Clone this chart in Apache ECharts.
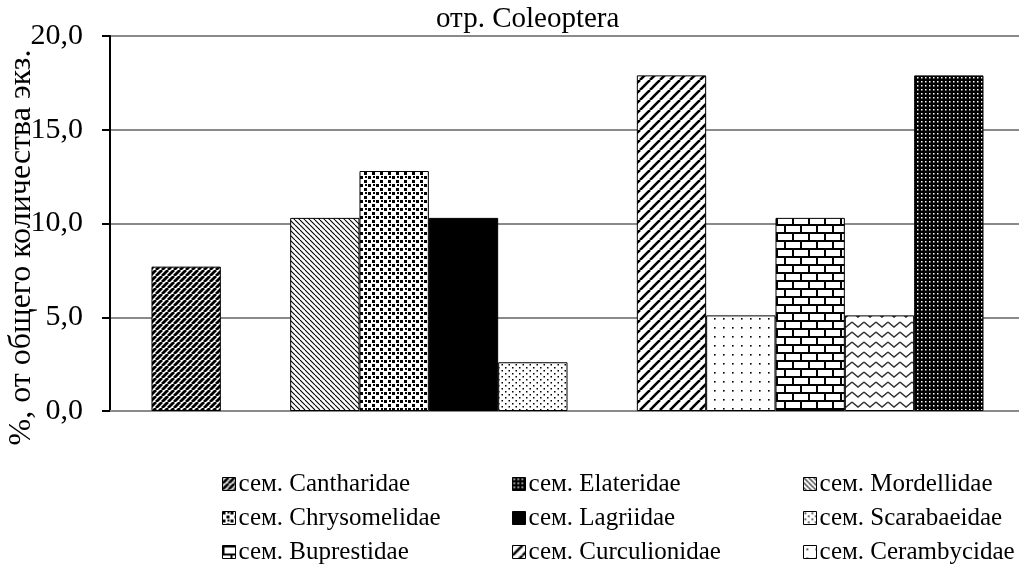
<!DOCTYPE html>
<html>
<head>
<meta charset="utf-8">
<script src="https://cdn.jsdelivr.net/npm/echarts@6/dist/echarts.min.js"></script>
<style>
  html, body { margin: 0; background: #fff; }
  #chart { width: 1019px; height: 571px; }
</style>
</head>
<body>
<div id="chart"></div>
<script>
const chartTitle = 'отр. Coleoptera';
const yAxisName = '%, от общего количества экз.';
const categories = [''];
// one bar per slot, left to right; null slots are the empty gaps between groups
const seriesNames = [
  'сем. Cantharidae', 'gap 1',
  'сем. Mordellidae', 'сем. Chrysomelidae', 'сем. Lagriidae', 'сем. Scarabaeidae', 'gap 2',
  'сем. Curculionidae', 'сем. Cerambycidae', 'сем. Buprestidae', 'Ряд 11', 'сем. Elateridae'
];
const seriesValues = [7.7, null, 10.3, 12.8, 10.3, 2.6, null, 17.9, 5.1, 10.3, 5.1, 17.9];
const yMin = 0, yMax = 20, yStep = 5;
const legendCol1 = ['сем. Cantharidae', 'сем. Chrysomelidae', 'сем. Buprestidae'];
const legendCol2 = ['сем. Elateridae', 'сем. Lagriidae', 'сем. Curculionidae'];
const legendCol3 = ['сем. Mordellidae', 'сем. Scarabaeidae', 'сем. Cerambycidae'];

const FONT = '"Liberation Serif", "Times New Roman", serif';

function tile(w, h, draw, bg) {
  const c = document.createElement('canvas');
  c.width = w; c.height = h;
  const g = c.getContext('2d');
  g.fillStyle = bg || '#fff';
  g.fillRect(0, 0, w, h);
  g.fillStyle = '#000';
  g.strokeStyle = '#000';
  draw(g, w, h);
  return { image: c, repeat: 'repeat' };
}

function slash(s, lw) {
  return tile(s, s, g => {
    g.lineWidth = lw;
    for (let k = -1; k <= 1; k++) {
      g.beginPath(); g.moveTo(k * s, s); g.lineTo(k * s + s, 0); g.stroke();
    }
  });
}

function backslash(s, lw) {
  return tile(s, s, g => {
    g.lineWidth = lw;
    for (let k = -1; k <= 1; k++) {
      g.beginPath(); g.moveTo(k * s, 0); g.lineTo(k * s + s, s); g.stroke();
    }
  });
}

const patterns = {
  'сем. Cantharidae': slash(6, 2.8),
  'сем. Mordellidae': backslash(5, 1.1),
  'сем. Chrysomelidae': tile(8, 8, g => {
    g.fillRect(0, 0, 3, 3); g.fillRect(4, 4, 3, 3); g.fillRect(5, 0, 2, 2);
  }),
  'сем. Lagriidae': '#000',
  'сем. Scarabaeidae': tile(7, 6, g => {
    g.fillRect(1, 1, 1.5, 1.5); g.fillRect(4.5, 4, 1.5, 1.5);
  }),
  'сем. Curculionidae': slash(10, 2.6),
  'сем. Cerambycidae': tile(9, 9, g => { g.fillRect(3, 3, 1.6, 1.6); }),
  'сем. Buprestidae': tile(16, 16, g => {
    g.fillRect(0, 0, 16, 2); g.fillRect(0, 8, 16, 2);
    g.fillRect(0, 0, 2, 8); g.fillRect(8, 8, 2, 8);
  }),
  'Ряд 11': tile(12, 10, g => {
    g.lineWidth = 1.4; g.strokeStyle = '#333';
    g.beginPath(); g.moveTo(0, 2); g.lineTo(6, 7); g.lineTo(12, 2); g.stroke();
  }),
  'сем. Elateridae': tile(4, 4, g => {
    g.fillStyle = '#fff'; g.fillRect(1, 1, 1.5, 1.5);
  }, '#000')
};

const series = seriesNames.map((name, i) => ({
  name: name,
  type: 'bar',
  barGap: '0%',
  barCategoryGap: '9.07%',
  data: [seriesValues[i]],
  itemStyle: {
    color: patterns[name] || '#fff',
    borderColor: '#000',
    borderWidth: 1
  }
}));

function legendColumn(names, left) {
  return {
    data: names,
    orient: 'vertical',
    left: left,
    top: 466,
    height: 120,
    icon: 'rect',
    itemWidth: 13,
    itemHeight: 13,
    itemGap: 8,
    selectedMode: false,
    itemStyle: { borderColor: '#000', borderWidth: 1 },
    textStyle: { fontFamily: FONT, fontSize: 25, color: '#000', lineHeight: 26, padding: [0, 0, 0, -2] }
  };
}

const chart = echarts.init(document.getElementById('chart'));
chart.setOption({
  animation: false,
  backgroundColor: '#fff',
  title: {
    text: chartTitle,
    left: 431,
    top: 0,
    textStyle: { fontFamily: FONT, fontSize: 29, fontWeight: 'normal', color: '#000' }
  },
  legend: [
    legendColumn(legendCol1, 217),
    legendColumn(legendCol2, 507),
    legendColumn(legendCol3, 798)
  ],
  grid: { left: 110, right: -6, top: 36, bottom: 160, containLabel: false, outerBoundsMode: 'none' },
  xAxis: {
    type: 'category',
    data: categories,
    axisLine: { lineStyle: { color: '#8a8a8a', width: 2 } },
    axisTick: { show: false },
    axisLabel: { show: false }
  },
  yAxis: {
    type: 'value',
    min: yMin,
    max: yMax,
    interval: yStep,
    name: yAxisName,
    nameLocation: 'middle',
    nameGap: 72,
    nameMoveOverlap: false,
    nameTextStyle: { fontFamily: FONT, fontSize: 32, color: '#000', padding: [0, 48, 0, 0] },
    axisLine: { show: true, lineStyle: { color: '#000', width: 2 } },
    axisTick: { show: true, length: 8, lineStyle: { color: '#000', width: 2 } },
    axisLabel: {
      fontFamily: FONT, fontSize: 30, color: '#000', margin: 27,
      formatter: v => v.toFixed(1).replace('.', ',')
    },
    splitLine: { lineStyle: { color: '#8a8a8a', width: 2 } }
  },
  series: series
});
</script>
</body>
</html>
